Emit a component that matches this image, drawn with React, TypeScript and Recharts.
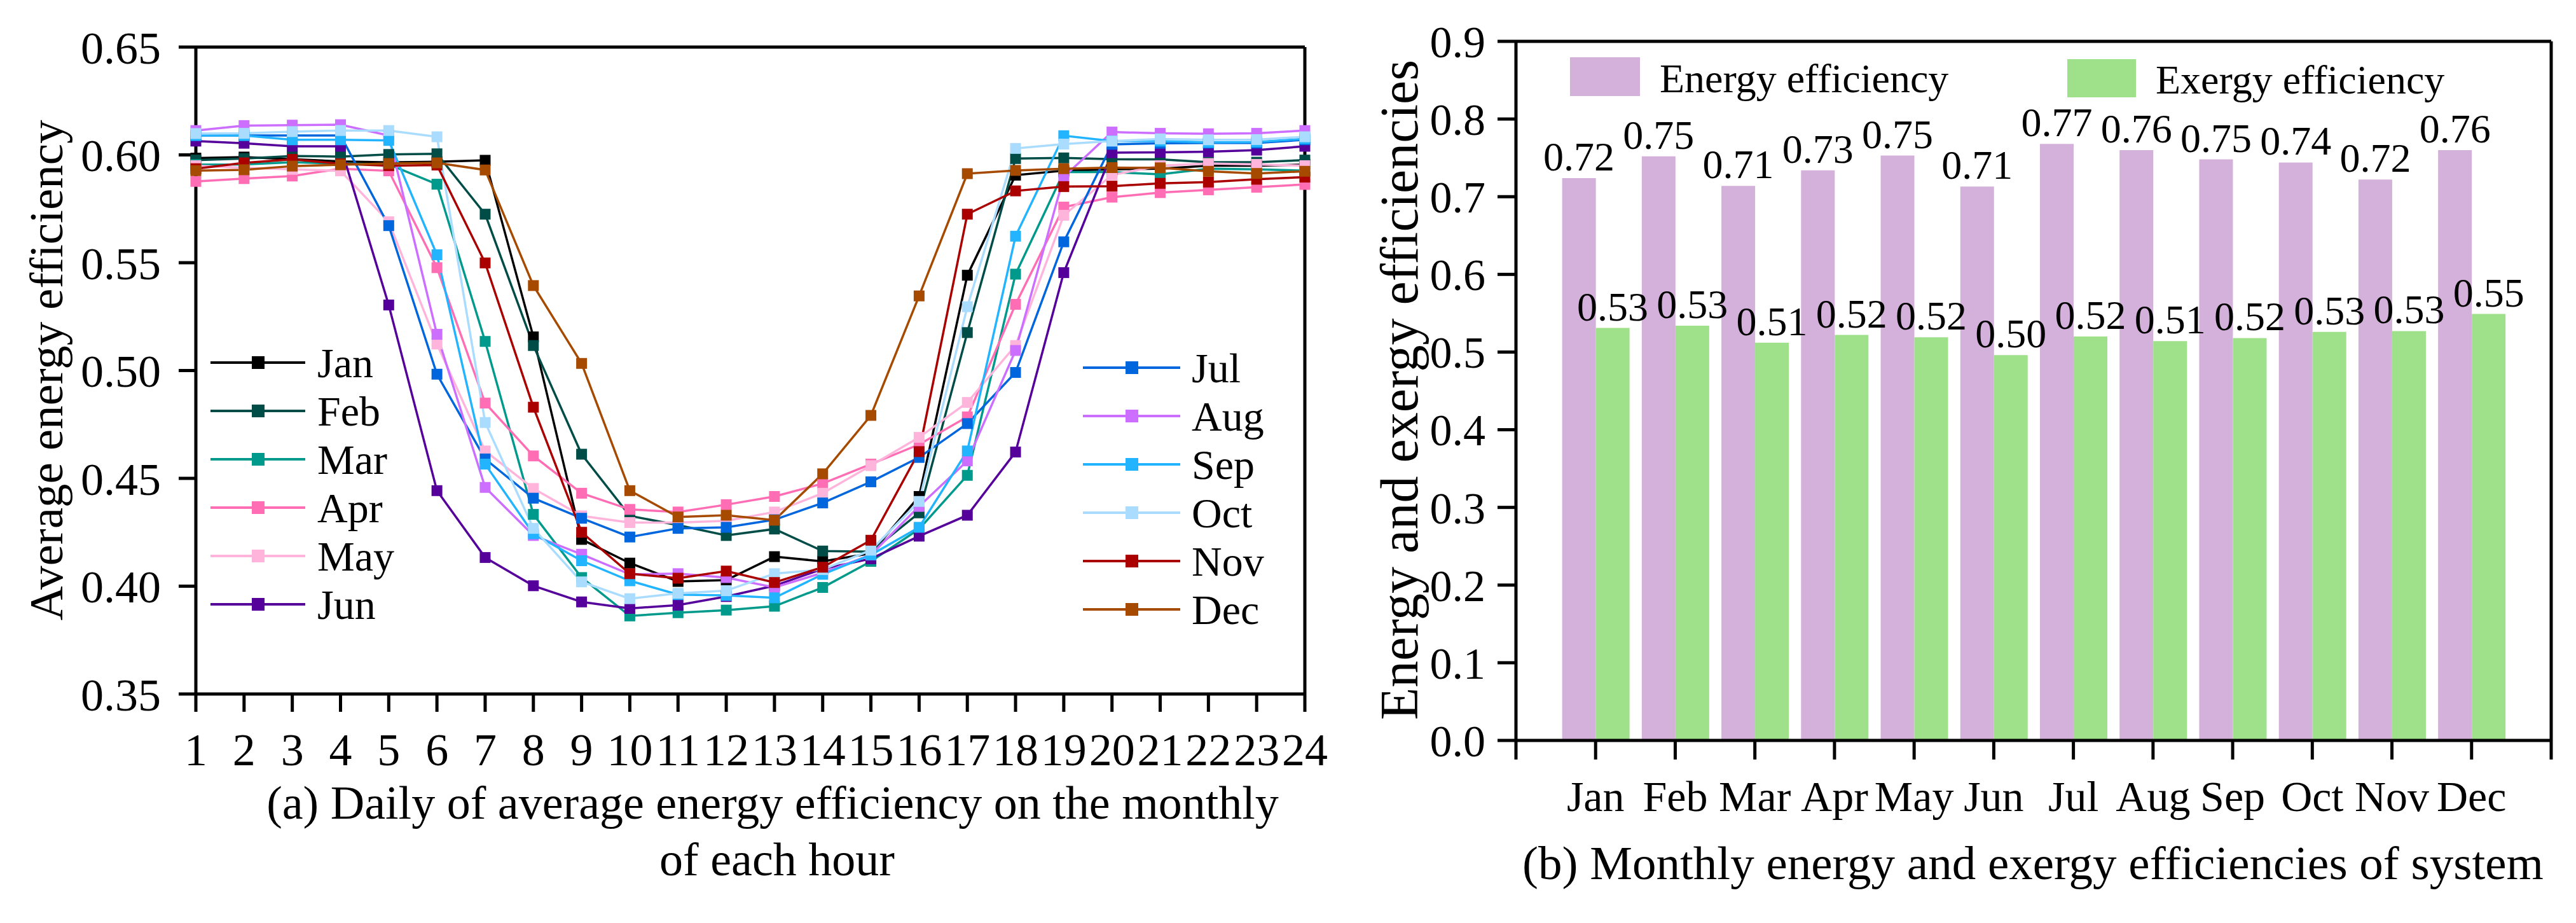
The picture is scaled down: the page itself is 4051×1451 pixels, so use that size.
import React from "react";
import {
  LineChart, Line, BarChart, Bar, XAxis, YAxis, ReferenceLine, LabelList,
} from "recharts";

const FONT = "'Liberation Serif', 'Times New Roman', serif";

// ---------- (a) hourly average energy efficiency ----------
const hours = [1, 2, 3, 4, 5, 6, 7, 8, 9, 10, 11, 12, 13, 14, 15, 16, 17, 18, 19, 20, 21, 22, 23, 24];
const months = ["Jan", "Feb", "Mar", "Apr", "May", "Jun", "Jul", "Aug", "Sep", "Oct", "Nov", "Dec"];

const jan = [0.5985, 0.599, 0.598, 0.597, 0.5965, 0.5968, 0.5975, 0.5156, 0.4217, 0.4107, 0.4022, 0.4028, 0.4137, 0.4115, 0.4152, 0.4416, 0.5442, 0.5906, 0.5927, 0.5933, 0.5936, 0.595, 0.595, 0.5955];
const feb = [0.5976, 0.5983, 0.5995, 0.5992, 0.6002, 0.6005, 0.5725, 0.5116, 0.4612, 0.4326, 0.4283, 0.4235, 0.4265, 0.4163, 0.416, 0.434, 0.5176, 0.5983, 0.5986, 0.598, 0.5979, 0.5966, 0.5966, 0.5976];
const mar = [0.5955, 0.5956, 0.5966, 0.596, 0.5956, 0.5864, 0.5135, 0.4333, 0.404, 0.3862, 0.3877, 0.3889, 0.3907, 0.3994, 0.4115, 0.4265, 0.4514, 0.5447, 0.592, 0.592, 0.591, 0.5936, 0.5933, 0.5927];
const apr = [0.5877, 0.589, 0.5902, 0.5936, 0.5926, 0.5477, 0.4849, 0.4604, 0.4431, 0.4356, 0.4344, 0.4378, 0.4416, 0.4476, 0.4566, 0.4657, 0.4785, 0.5307, 0.5758, 0.5804, 0.5825, 0.5838, 0.585, 0.5863];
const may = [0.595, 0.594, 0.5933, 0.5926, 0.569, 0.5123, 0.4627, 0.4453, 0.4326, 0.4295, 0.4295, 0.4303, 0.4344, 0.4431, 0.4559, 0.469, 0.4852, 0.5116, 0.572, 0.5907, 0.595, 0.596, 0.5956, 0.595];
const jun = [0.6064, 0.6054, 0.604, 0.604, 0.5304, 0.4443, 0.4133, 0.4002, 0.3927, 0.3897, 0.3912, 0.3952, 0.4002, 0.408, 0.4127, 0.4232, 0.4329, 0.4622, 0.5454, 0.601, 0.6012, 0.6015, 0.6022, 0.604];
const jul = [0.609, 0.609, 0.609, 0.609, 0.5672, 0.4983, 0.459, 0.4408, 0.4315, 0.4228, 0.4268, 0.4273, 0.4308, 0.4386, 0.4484, 0.4597, 0.4754, 0.4991, 0.5597, 0.6049, 0.6054, 0.6055, 0.6055, 0.607];
const aug = [0.6113, 0.6136, 0.6138, 0.614, 0.609, 0.5168, 0.4458, 0.4235, 0.4148, 0.4055, 0.4058, 0.404, 0.3994, 0.4062, 0.4145, 0.437, 0.4581, 0.5093, 0.5898, 0.6106, 0.61, 0.6098, 0.61, 0.6113];
const sep = [0.609, 0.609, 0.607, 0.607, 0.6067, 0.5537, 0.4566, 0.4243, 0.4118, 0.4025, 0.3961, 0.3957, 0.3946, 0.4055, 0.4145, 0.4273, 0.4627, 0.5623, 0.6089, 0.6064, 0.6064, 0.6058, 0.606, 0.6075];
const oct = [0.6099, 0.61, 0.6108, 0.6113, 0.6113, 0.6084, 0.4759, 0.4268, 0.402, 0.3942, 0.3967, 0.3979, 0.4058, 0.4077, 0.4167, 0.4393, 0.5296, 0.603, 0.605, 0.6064, 0.6074, 0.607, 0.6071, 0.6084];
const nov = [0.5936, 0.5963, 0.5979, 0.5959, 0.595, 0.5953, 0.5499, 0.483, 0.425, 0.4058, 0.4037, 0.407, 0.4017, 0.4088, 0.4213, 0.4624, 0.5725, 0.5833, 0.5853, 0.5855, 0.5868, 0.5874, 0.5887, 0.5897];
const dec = [0.5927, 0.5931, 0.5948, 0.5954, 0.596, 0.5963, 0.593, 0.5394, 0.5033, 0.4443, 0.4321, 0.4329, 0.4306, 0.4521, 0.4792, 0.5346, 0.5913, 0.5928, 0.5936, 0.5941, 0.594, 0.5924, 0.5914, 0.5924];

const hourlySeries = [jan, feb, mar, apr, may, jun, jul, aug, sep, oct, nov, dec];
const lineColors = [
  "#000000", "#004d47", "#009a8c", "#ff6eb4", "#ffb4dc", "#55009a",
  "#0066dd", "#cc6eff", "#22b4ff", "#aadcff", "#aa0000", "#a64a00",
];
const yTicksA = [0.35, 0.4, 0.45, 0.5, 0.55, 0.6, 0.65];

// ---------- (b) monthly energy / exergy ----------
const monthIdx = [1, 2, 3, 4, 5, 6, 7, 8, 9, 10, 11, 12];
const energyEff = [0.724, 0.752, 0.714, 0.734, 0.753, 0.713, 0.768, 0.76, 0.748, 0.744, 0.722, 0.76];
const exergyEff = [0.531, 0.534, 0.512, 0.522, 0.519, 0.496, 0.52, 0.514, 0.518, 0.526, 0.527, 0.549];
const xTicksB = [0, 1, 2, 3, 4, 5, 6, 7, 8, 9, 10, 11, 12, 13];
const yTicksB = [0, 0.1, 0.2, 0.3, 0.4, 0.5, 0.6, 0.7, 0.8, 0.9];

const hourlyData = hours.map((h, i) => {
  const row: Record<string, number> = { hour: h };
  months.forEach((m, k) => (row[m] = hourlySeries[k][i]));
  return row;
});

const monthlyData = monthIdx.map((x, i) => ({
  x,
  energy: energyEff[i],
  exergy: exergyEff[i],
}));

const squareDot = (name: string, color: string) => (p: any) => {
  if (p.cx == null || p.cy == null) return <g key={`${name}-${p.index}`} />;
  return (
    <rect key={`${name}-${p.index}`} x={p.cx - 8.5} y={p.cy - 8.5} width={17} height={17} fill={color} />
  );
};

const axisStroke = { stroke: "#000", strokeWidth: 5 };

export default function App() {
  const legendLeft = months.slice(0, 6);
  const legendRight = months.slice(6);

  return (
    <div style={{ position: "absolute", left: 0, top: 0, width: 4051, height: 1451, background: "#fff" }}>
      {/* (a) */}
      <div style={{ position: "absolute", left: 0, top: 0 }}>
        <LineChart
          width={2100}
          height={1451}
          data={hourlyData}
          margin={{ top: 74, right: 48, left: 158, bottom: 210 }}
        >
          <XAxis
            dataKey="hour"
            type="number"
            domain={[1, 24]}
            ticks={hours}
            interval={0}
            height={150}
            tickSize={28}
            tickMargin={33}
            axisLine={axisStroke}
            tickLine={axisStroke}
            tick={{ fontSize: 72, fill: "#000", fontFamily: FONT }}
          />
          <YAxis
            type="number"
            domain={[0.35, 0.65]}
            ticks={yTicksA}
            interval={0}
            width={150}
            tickSize={27}
            tickMargin={28}
            axisLine={axisStroke}
            tickLine={axisStroke}
            tickFormatter={(v: number) => v.toFixed(2)}
            tick={{ fontSize: 72, fill: "#000", fontFamily: FONT }}
          />
          <ReferenceLine y={0.65} stroke="#000" strokeWidth={5} />
          <ReferenceLine x={24} stroke="#000" strokeWidth={5} />
          {months.map((m, k) => (
            <Line
              key={m}
              dataKey={m}
              type="linear"
              stroke={lineColors[k]}
              strokeWidth={3.5}
              dot={squareDot(m, lineColors[k])}
              activeDot={false}
              isAnimationActive={false}
            />
          ))}
        </LineChart>
      </div>

      {/* (b) */}
      <div style={{ position: "absolute", left: 2200, top: 0 }}>
        <BarChart
          width={1851}
          height={1451}
          data={monthlyData}
          margin={{ top: 65, right: 39, left: 34, bottom: 137 }}
          barGap={0}
        >
          <XAxis
            dataKey="x"
            type="number"
            domain={[0, 13]}
            ticks={xTicksB}
            interval={0}
            height={150}
            tickSize={30}
            tickMargin={33}
            axisLine={axisStroke}
            tickLine={axisStroke}
            tickFormatter={(v: number) => months[v - 1] ?? ""}
            tick={{ fontSize: 68, fill: "#000", fontFamily: FONT }}
          />
          <YAxis
            type="number"
            domain={[0, 0.9]}
            ticks={yTicksB}
            interval={0}
            width={150}
            tickSize={29}
            tickMargin={19}
            axisLine={axisStroke}
            tickLine={axisStroke}
            tickFormatter={(v: number) => v.toFixed(1)}
            tick={{ fontSize: 70, fill: "#000", fontFamily: FONT }}
          />
          <ReferenceLine y={0.9} stroke="#000" strokeWidth={5} />
          <ReferenceLine x={13} stroke="#000" strokeWidth={5} />
          <Bar dataKey="energy" fill="#d4b1da" barSize={53} isAnimationActive={false}>
            <LabelList
              dataKey="energy"
              position="top"
              offset={12}
              formatter={(v: any) => Number(v).toFixed(2)}
              style={{ fontSize: 64, fill: "#000", fontFamily: FONT }}
            />
          </Bar>
          <Bar dataKey="exergy" fill="#9fe08b" barSize={53} isAnimationActive={false}>
            <LabelList
              dataKey="exergy"
              position="top"
              offset={12}
              formatter={(v: any) => Number(v).toFixed(2)}
              style={{ fontSize: 64, fill: "#000", fontFamily: FONT }}
            />
          </Bar>
        </BarChart>
      </div>

      {/* titles, legends, captions */}
      <svg
        width={4051}
        height={1451}
        style={{ position: "absolute", left: 0, top: 0, pointerEvents: "none" }}
        fontFamily={FONT}
      >
        <text x={72} y={582} fontSize={75} textAnchor="middle" dominantBaseline="central"
          transform="rotate(-90 72 582)">Average energy efficiency</text>

        {legendLeft.map((m, i) => {
          const y = 570 + i * 76;
          const c = lineColors[i];
          return (
            <g key={m}>
              <line x1={331} x2={480} y1={y} y2={y} stroke={c} strokeWidth={4} />
              <rect x={396} y={y - 10} width={20} height={20} fill={c} />
              <text x={499} y={y} fontSize={66} dominantBaseline="central">{m}</text>
            </g>
          );
        })}
        {legendRight.map((m, i) => {
          const y = 578 + i * 76;
          const c = lineColors[i + 6];
          return (
            <g key={m}>
              <line x1={1703} x2={1856} y1={y} y2={y} stroke={c} strokeWidth={4} />
              <rect x={1770} y={y - 10} width={20} height={20} fill={c} />
              <text x={1874} y={y} fontSize={66} dominantBaseline="central">{m}</text>
            </g>
          );
        })}

        <text x={1215} y={1262} fontSize={74} textAnchor="middle" dominantBaseline="central">
          (a) Daily of average energy efficiency on the monthly
        </text>
        <text x={1222} y={1351} fontSize={74} textAnchor="middle" dominantBaseline="central">
          of each hour
        </text>

        <text x={2200} y={613} fontSize={84} textAnchor="middle" dominantBaseline="central"
          transform="rotate(-90 2200 613)">Energy and exergy efficiencies</text>

        <rect x={2469} y={90} width={110} height={61} fill="#d4b1da" />
        <text x={2610} y={123} fontSize={64} dominantBaseline="central">Energy efficiency</text>
        <rect x={3251} y={93} width={108} height={60} fill="#9fe08b" />
        <text x={3390} y={125} fontSize={64} dominantBaseline="central">Exergy efficiency</text>

        <text x={3197} y={1356} fontSize={75} textAnchor="middle" dominantBaseline="central">
          (b) Monthly energy and exergy efficiencies of system
        </text>
      </svg>
    </div>
  );
}
